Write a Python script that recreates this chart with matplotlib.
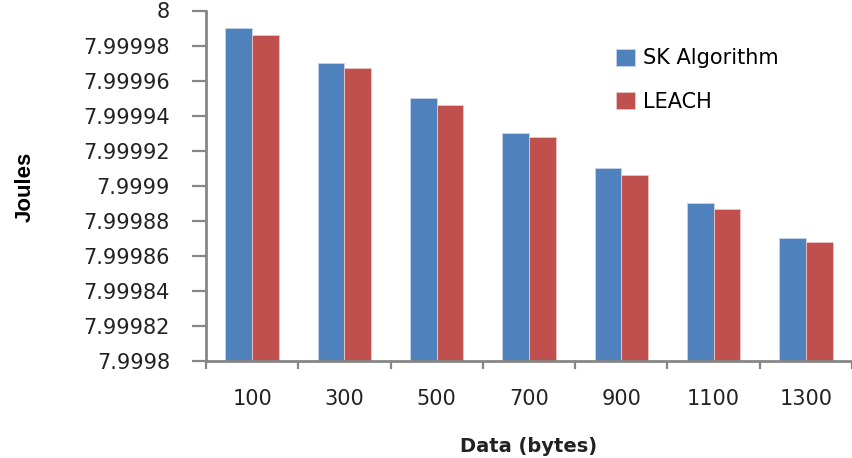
import matplotlib
matplotlib.use("Agg")
import matplotlib.pyplot as plt
import numpy as np

categories = ["100", "300", "500", "700", "900", "1100", "1300"]
sk_values = [7.99999, 7.99997, 7.99995, 7.99993, 7.99991, 7.99989, 7.99987]
leach_values = [7.999986, 7.999967, 7.999946, 7.999928, 7.999906, 7.999887, 7.999868]
yticks = [7.9998, 7.99982, 7.99984, 7.99986, 7.99988, 7.9999,
          7.99992, 7.99994, 7.99996, 7.99998, 8.0]
ytick_labels = ["7.9998", "7.99982", "7.99984", "7.99986", "7.99988", "7.9999",
                "7.99992", "7.99994", "7.99996", "7.99998", "8"]

BLUE, RED, AXIS = "#4F81BD", "#C0504D", "#868686"

plt.rcParams["font.family"] = "DejaVu Sans"
fig = plt.figure(figsize=(8.52, 4.58), dpi=100)
ax = fig.add_axes([206 / 852, 1 - 361 / 458, (852 - 206) / 852, (361 - 10.5) / 458])

x = np.arange(len(categories))
w = 0.29
ax.bar(x - w / 2, sk_values, w, color=BLUE, edgecolor="#c6d4ea", linewidth=0.6, label="SK Algorithm")
ax.bar(x + w / 2, leach_values, w, color=RED, edgecolor="#ecc6c5", linewidth=0.6, label="LEACH")

ax.set_ylim(7.9998, 8.0)
ax.set_xlim(-0.5, 6.5 - 7 / 93.3)
ax.set_yticks(yticks)
ax.set_yticklabels(ytick_labels, fontsize=15, color="#222222")
ax.set_xticks(x)
ax.set_xticklabels(categories, fontsize=15, color="#222222")
ax.set_xticks(np.arange(-0.5, 7, 1), minor=True)
ax.tick_params(axis="x", which="major", length=0, pad=20)
ax.tick_params(axis="x", which="minor", length=6, width=1.6, color=AXIS)
ax.tick_params(axis="y", length=10, width=1.6, color=AXIS, pad=16)

for s in ("top", "right"):
    ax.spines[s].set_visible(False)
for s in ("left", "bottom"):
    ax.spines[s].set_color(AXIS)
    ax.spines[s].set_linewidth(2)

ax.set_xlabel("Data (bytes)", fontsize=14, fontweight="bold", color="#222222", labelpad=20)
fig.text(25 / 852, 1 - 187 / 458, "Joules", rotation=90, ha="center", va="center",
         fontsize=16, fontweight="bold", family=["Liberation Sans Narrow", "Liberation Sans"])

leg = ax.legend(loc="upper left", frameon=False, fontsize=15, handlelength=0.9,
                handleheight=0.9, handletextpad=0.4, labelspacing=1.12, borderaxespad=0,
                bbox_to_anchor=(608 / 852, 1 - 40 / 458), bbox_transform=fig.transFigure)

fig.savefig("out.png", dpi=100)
